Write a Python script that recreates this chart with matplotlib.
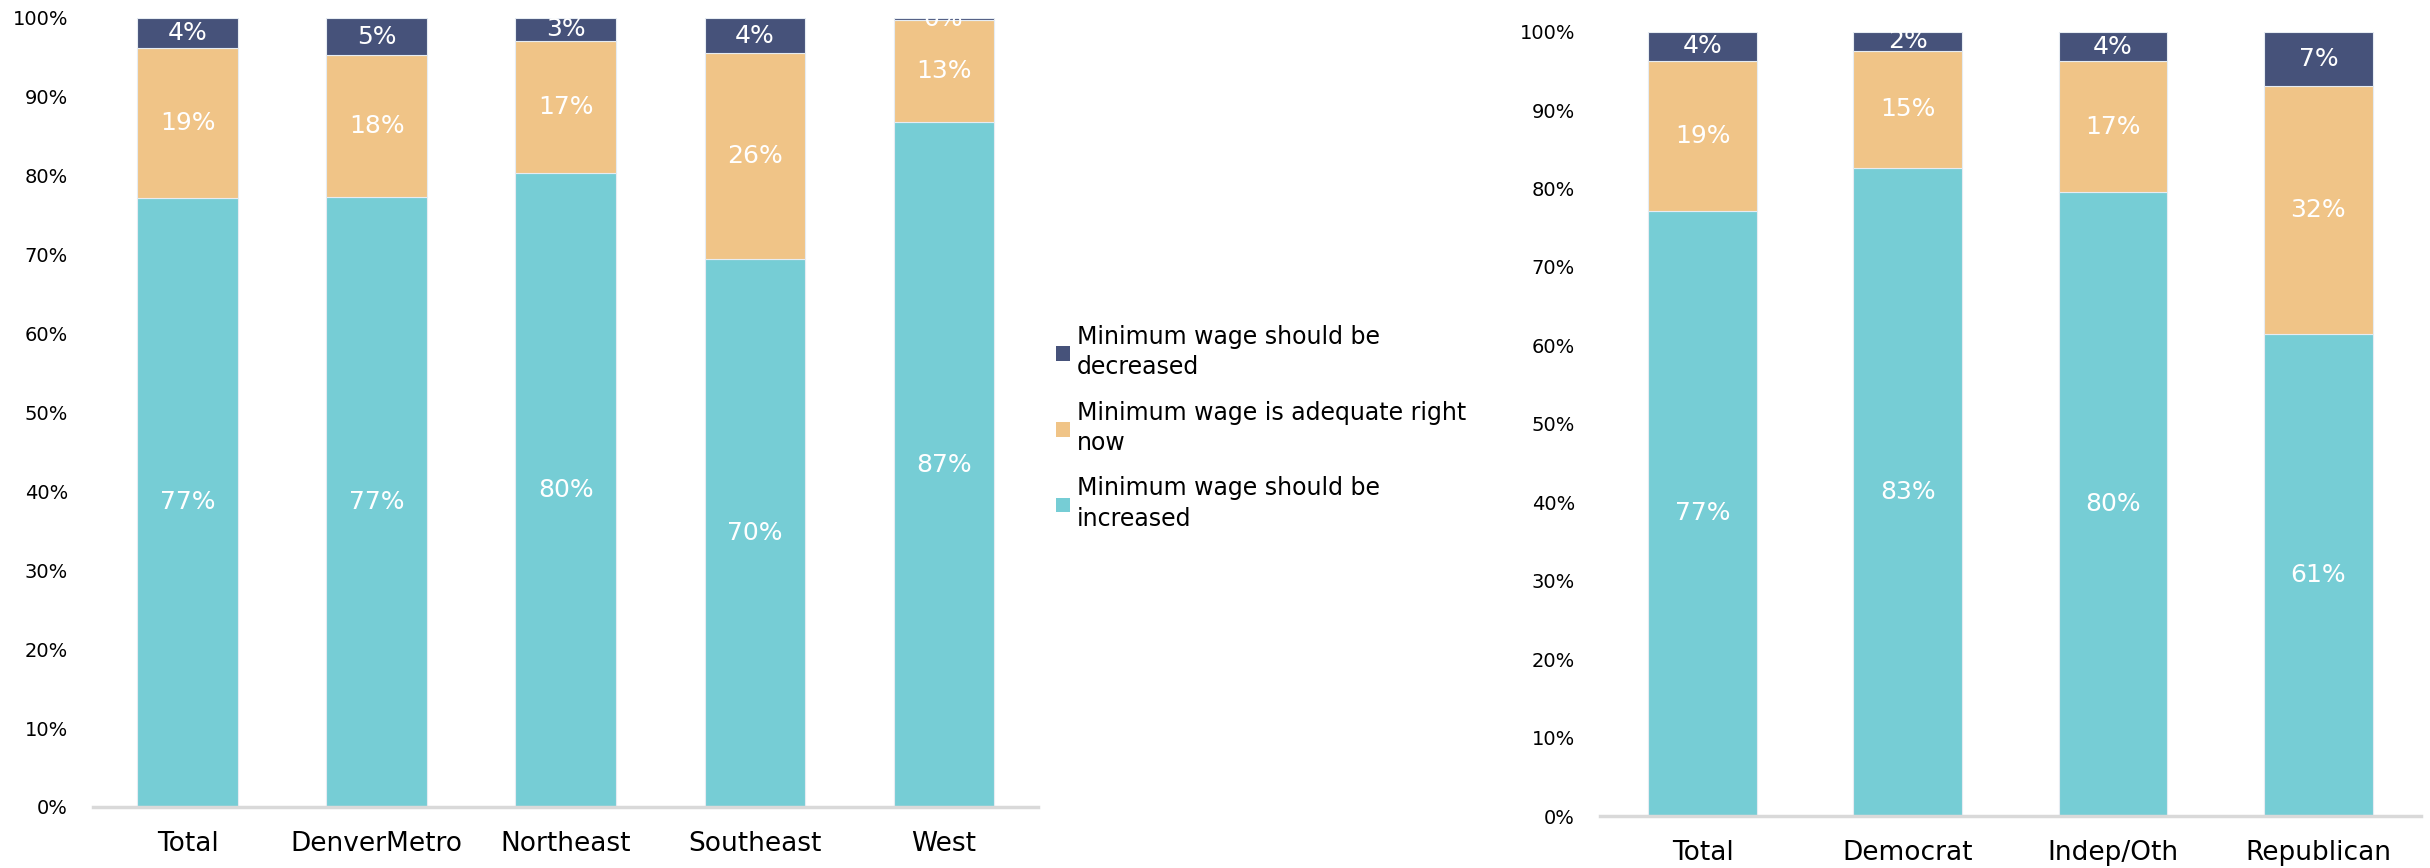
import numpy as np
import matplotlib
matplotlib.use('Agg')
import matplotlib.pyplot as plt
from matplotlib.patches import Patch

# Region breakdown
region_labels = ['Total', 'DenverMetro', 'Northeast', 'Southeast', 'West']
region_increase = [77.2, 77.3, 80.3, 69.5, 86.8]
region_adequate = [19.0, 18.0, 16.8, 26.0, 12.9]
region_decrease = [3.8, 4.7, 2.9, 4.5, 0.3]

# Party breakdown
party_labels = ['Total', 'Democrat', 'Indep/Oth', 'Republican']
party_increase = [77.2, 82.6, 79.6, 61.4]
party_adequate = [19.1, 15.0, 16.6, 31.7]
party_decrease = [3.7, 2.4, 3.8, 6.9]

series_names = ['Minimum wage should be\ndecreased',
                'Minimum wage is adequate right\nnow',
                'Minimum wage should be\nincreased']

c_dec = '#46527A'
c_adq = '#F0C487'
c_inc = '#76CDD5'

plt.rcParams['font.family'] = ['DejaVu Sans']

fig = plt.figure(figsize=(24.3, 8.68), dpi=100)
ax1 = fig.add_axes([0.0383, 0.0703, 0.3889, 0.9090])
ax2 = fig.add_axes([0.6584, 0.0599, 0.3379, 0.9036])


def stacked(ax, cats, inc, adq, dec):
    x = np.arange(len(cats))
    inc = np.array(inc)
    adq = np.array(adq)
    dec = np.array(dec)
    w = 0.53
    ax.bar(x, inc, w, color=c_inc, edgecolor='#e6ecf2', linewidth=0.8)
    ax.bar(x, adq, w, bottom=inc, color=c_adq, edgecolor='#e6ecf2', linewidth=0.8)
    ax.bar(x, dec, w, bottom=inc + adq, color=c_dec, edgecolor='#e6ecf2', linewidth=0.8)
    for i in range(len(cats)):
        for bottom, val in [(0, inc[i]), (inc[i], adq[i]), (inc[i] + adq[i], dec[i])]:
            ax.text(x[i], bottom + val / 2, '%d%%' % round(val), ha='center', va='center',
                    color='white', fontsize=18, clip_on=True)
    ax.set_xlim(-0.5, len(cats) - 0.5)
    ax.set_ylim(0, 100)
    ax.set_xticks(x)
    ax.set_xticklabels(cats, fontsize=19)
    ax.set_yticks(np.arange(0, 101, 10))
    ax.set_yticklabels(['%d%%' % v for v in range(0, 101, 10)], fontsize=14)
    ax.tick_params(axis='both', length=0)
    ax.tick_params(axis='x', pad=17)
    ax.tick_params(axis='y', pad=18)
    for s in ['top', 'right', 'left']:
        ax.spines[s].set_visible(False)
    ax.spines['bottom'].set_color('#d9d9d9')
    ax.spines['bottom'].set_linewidth(2.5)


stacked(ax1, region_labels, region_increase, region_adequate, region_decrease)
stacked(ax2, party_labels, party_increase, party_adequate, party_decrease)

handles = [Patch(facecolor=c_dec), Patch(facecolor=c_adq), Patch(facecolor=c_inc)]
leg = fig.legend(handles, series_names, loc='center left', bbox_to_anchor=(0.4344, 0.507),
                 frameon=False, fontsize=17, handlelength=0.6, handleheight=0.6,
                 handletextpad=0.3, labelspacing=0.9, borderpad=0, borderaxespad=0)
for t in leg.get_texts():
    t.set_linespacing(1.35)

fig.savefig('out.png', dpi=100)
